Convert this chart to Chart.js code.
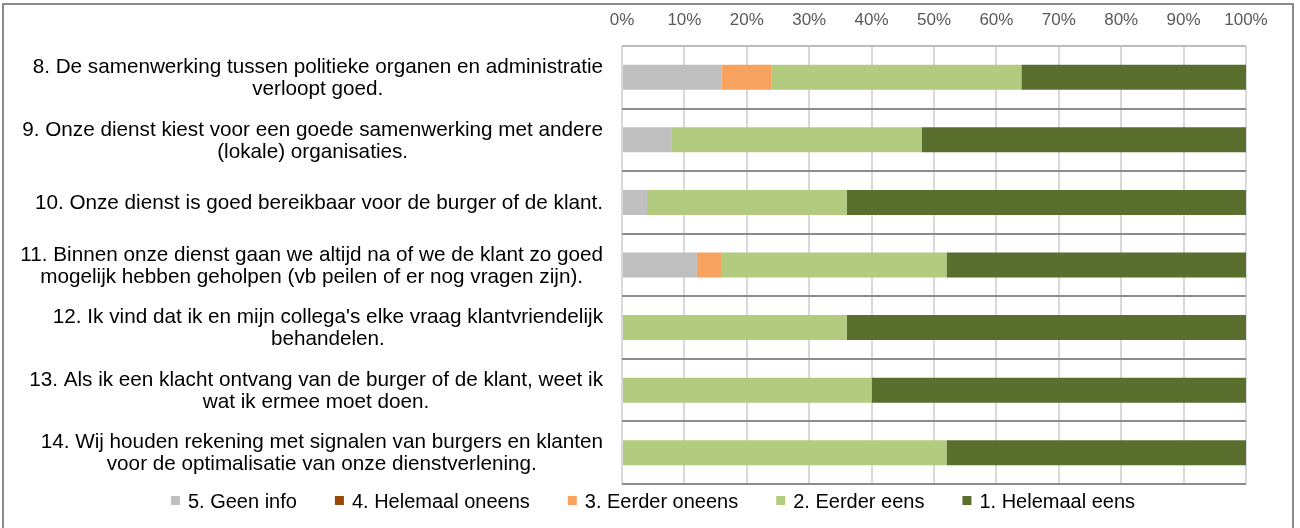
<!DOCTYPE html>
<html>
<head>
<meta charset="utf-8">
<title>Stellingen dienstverlening</title>
<script src="https://cdn.jsdelivr.net/npm/chart.js@4/dist/chart.umd.min.js"></script>
<style>
  html, body { margin: 0; padding: 0; background: #fff; }
  #wrap { position: relative; width: 1300px; height: 528px; overflow: hidden; }
  #frame {
    position: absolute; left: 2px; top: 3px; width: 1292px; height: 560px;
    border: 2px solid #8a8a8a; box-sizing: border-box; pointer-events: none;
  }
  canvas { position: absolute; left: 0; top: 0; }
</style>
</head>
<body>
<div id="wrap">
  <canvas id="chart" width="1300" height="528"></canvas>
  <div id="frame"></div>
</div>
<script>
// ── Data ──
const CATEGORIES = [
  ['8. De samenwerking tussen politieke organen en administratie', 'verloopt goed.'],
  ['9. Onze dienst kiest voor een goede samenwerking met andere', '(lokale) organisaties.'],
  ['10. Onze dienst is goed bereikbaar voor de burger of de klant.'],
  ['11. Binnen onze dienst gaan we altijd na of we de klant zo goed', 'mogelijk hebben geholpen (vb peilen of er nog vragen zijn).'],
  ["12. Ik vind dat ik en mijn collega's elke vraag klantvriendelijk", 'behandelen.'],
  ['13. Als ik een klacht ontvang van de burger of de klant, weet ik', 'wat ik ermee moet doen.'],
  ['14. Wij houden rekening met signalen van burgers en klanten', 'voor de optimalisatie van onze dienstverlening.'],
];

const SERIES_NAMES = ['5. Geen info', '4. Helemaal oneens', '3. Eerder oneens', '2. Eerder eens', '1. Helemaal eens'];

const GEEN_INFO         = [16, 8, 4, 12, 0, 0, 0];
const HELEMAAL_ONEENS   = [0, 0, 0, 0, 0, 0, 0];
const EERDER_ONEENS     = [8, 0, 0, 4, 0, 0, 0];
const EERDER_EENS       = [40, 40, 32, 36, 36, 40, 52];
const HELEMAAL_EENS     = [36, 52, 64, 48, 64, 60, 48];

const X_TICKS = [0, 10, 20, 30, 40, 50, 60, 70, 80, 90, 100];

const COLORS = ['#bfbfbf', '#984807', '#f7a25f', '#b3cb7f', '#5a6e2e'];

const LABEL_FONT  = '20.7px "Liberation Sans", Arial, sans-serif';
const LEGEND_FONT = '20px "Liberation Sans", Arial, sans-serif';

// ── Category labels: each block right-aligned, lines centred in the block ──
const catLabels = {
  id: 'catLabels',
  afterDraw(chart) {
    const ctx = chart.ctx;
    const y = chart.scales.y;
    const right = chart.chartArea.left - 19;
    ctx.save();
    ctx.font = LABEL_FONT;
    ctx.fillStyle = '#000';
    ctx.textAlign = 'center';
    ctx.textBaseline = 'middle';
    CATEGORIES.forEach((lines, i) => {
      const yc = y.getPixelForValue(i);
      const w = Math.max(...lines.map(l => ctx.measureText(l).width));
      const cx = right - w / 2;
      lines.forEach((l, j) => {
        ctx.fillText(l, cx, yc + 1 + (j - (lines.length - 1) / 2) * 22);
      });
    });
    ctx.restore();
  }
};

// ── Legend under the plot ──
const bottomLegend = {
  id: 'bottomLegend',
  afterDraw(chart) {
    const ctx = chart.ctx;
    ctx.save();
    ctx.font = LEGEND_FONT;
    ctx.textBaseline = 'middle';
    ctx.textAlign = 'left';
    const box = 9, gap = 8, spacing = 38;
    const items = chart.data.datasets.map(ds => ({
      text: ds.label,
      color: ds.backgroundColor,
      w: box + gap + ctx.measureText(ds.label).width,
    }));
    const total = items.reduce((s, it) => s + it.w, 0) + spacing * (items.length - 1);
    let x = chart.width / 2 + 3 - total / 2;
    const yc = chart.chartArea.bottom + 17;
    items.forEach(it => {
      ctx.fillStyle = it.color;
      ctx.fillRect(x, yc - 5, box, box);
      ctx.fillStyle = '#000';
      ctx.fillText(it.text, x + box + gap, yc + 1);
      x += it.w + spacing;
    });
    ctx.restore();
  }
};

const seriesData = [GEEN_INFO, HELEMAAL_ONEENS, EERDER_ONEENS, EERDER_EENS, HELEMAAL_EENS];

new Chart(document.getElementById('chart'), {
  type: 'bar',
  data: {
    labels: CATEGORIES,
    datasets: SERIES_NAMES.map((name, i) => ({
      label: name,
      data: seriesData[i],
      backgroundColor: COLORS[i],
      borderWidth: 0,
      barPercentage: 0.4,
      categoryPercentage: 1,
    })),
  },
  options: {
    indexAxis: 'y',
    responsive: false,
    animation: false,
    layout: { padding: { top: 8, right: 54, bottom: 44, left: 0 } },
    plugins: {
      legend: { display: false },
      tooltip: { enabled: false },
    },
    scales: {
      x: {
        position: 'top',
        stacked: true,
        min: 0,
        max: 100,
        afterBuildTicks: s => { s.ticks = X_TICKS.map(v => ({ value: v })); },
        afterFit: s => { s.height = 38; },
        ticks: {
          callback: v => v + '%',
          color: '#595959',
          font: { family: '"Liberation Sans", Arial, sans-serif', size: 17 },
          padding: 15,
        },
        grid: { color: '#d9d9d9', lineWidth: 2, drawTicks: false },
        border: { display: false },
      },
      y: {
        stacked: true,
        ticks: { display: false },
        grid: {
          offset: true,
          color: ctx => ctx.index === 0 ? '#bcbcbc' : '#8c8c8c',
          lineWidth: 2,
          drawTicks: false,
        },
        border: { display: false },
        afterFit: s => { s.width = 622; },
      },
    },
  },
  plugins: [catLabels, bottomLegend],
});
</script>
</body>
</html>
